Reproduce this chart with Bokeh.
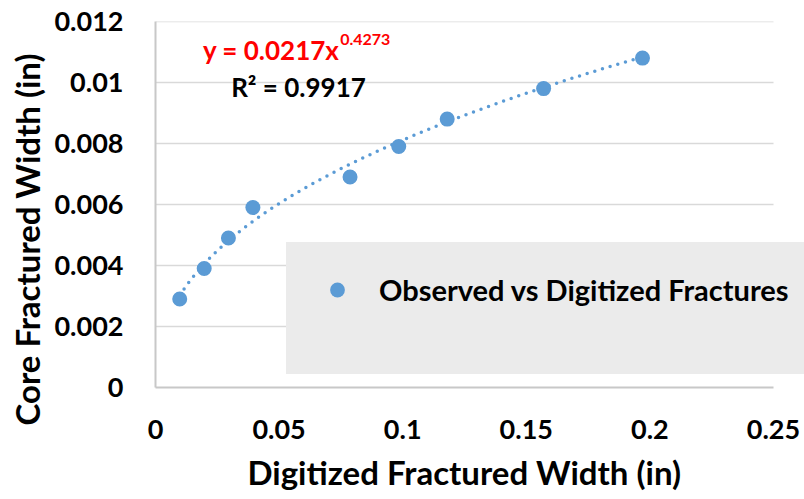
from bokeh.plotting import figure
from bokeh.models import FixedTicker, Legend, LegendItem, Label, Title
from bokeh.embed import file_html
from bokeh.resources import INLINE
import numpy as np

# Measured fracture widths (inches)
digitized_width = [0.0098, 0.0197, 0.0295, 0.0394, 0.0787, 0.0984, 0.118, 0.157, 0.197]
core_width = [0.0029, 0.0039, 0.0049, 0.0059, 0.0069, 0.0079, 0.0088, 0.0098, 0.0108]

# Power-law trendline y = a * x^b
fit_a = 0.0217
fit_b = 0.4273
fit_r2 = 0.9917

x_ticks = [0, 0.05, 0.1, 0.15, 0.2, 0.25]
x_tick_labels = ["0", "0.05", "0.1", "0.15", "0.2", "0.25"]
y_ticks = [0, 0.002, 0.004, 0.006, 0.008, 0.01, 0.012]
y_tick_labels = ["0", "0.002", "0.004", "0.006", "0.008", "0.01", "0.012"]

series_name = "Observed vs Digitized Fractures"
x_title = "Digitized Fractured Width (in)"
y_title = "Core Fractured Width (in)"

BLUE = "#5b9bd5"
FONT = "Lato"

W, H = 804, 499
LEFT, AXIS_END, TOP, BOTTOM = 155, 773, 21, 112
x_lo, x_hi = x_ticks[0], x_ticks[-1]
y_lo, y_hi = y_ticks[0], y_ticks[-1]
# The frame runs to the right edge so the legend box can reach it;
# the axis itself stops at the last tick.
x_view_end = x_hi * (W - LEFT) / (AXIS_END - LEFT)

p = figure(width=W, height=H, x_range=(x_lo, x_view_end), y_range=(y_lo, y_hi),
           output_backend="svg", toolbar_location=None,
           min_border_left=LEFT, min_border_right=0,
           min_border_top=TOP, min_border_bottom=BOTTOM)
p.outline_line_color = None
p.background_fill_color = "white"
p.border_fill_color = "white"
p.xgrid.grid_line_color = None
p.ygrid.grid_line_color = None

for ax in (p.xaxis[0], p.yaxis[0]):
    ax.axis_line_color = "#c8c8c8"
    ax.axis_line_width = 2
    ax.major_tick_line_color = None
    ax.minor_tick_line_color = None
    ax.major_tick_out = 0
    ax.major_tick_in = 0
    ax.major_label_text_font = FONT
    ax.major_label_text_font_style = "bold"
    ax.major_label_text_font_size = "27px"
    ax.major_label_text_color = "black"

p.xaxis.ticker = FixedTicker(ticks=x_ticks)
p.xaxis.major_label_overrides = dict(zip(x_ticks, x_tick_labels))
p.xaxis.major_label_standoff = 32
p.xaxis.bounds = (x_lo, x_hi)

p.yaxis.ticker = FixedTicker(ticks=y_ticks)
p.yaxis.major_label_overrides = dict(zip(y_ticks, y_tick_labels))
p.yaxis.major_label_standoff = 32

# Axis titles
title_style = dict(text_font=FONT, text_font_style="bold",
                   text_font_size="33px", text_color="black")
p.add_layout(Title(text=x_title, align="left", offset=92, standoff=16,
                   **title_style), "below")
p.add_layout(Title(text=y_title, align="left", offset=-38, standoff=9,
                   **title_style), "left")

# Horizontal gridlines over the axis span
grid_y = y_ticks[1:]
p.segment(x0=[x_lo] * len(grid_y), x1=[x_hi] * len(grid_y), y0=grid_y, y1=grid_y,
          line_color="#d9d9d9", line_width=1.5)

# Dotted power-law trendline across the observed range
trend_x = np.linspace(min(digitized_width), max(digitized_width), 200)
trend_y = fit_a * trend_x ** fit_b
p.line(trend_x, trend_y, line_color=BLUE, line_width=3.5,
       line_dash="0 8", line_cap="round")

pts = p.scatter(digitized_width, core_width, size=15, fill_color=BLUE,
                line_color=None)

# Spacer item keeps the legend entry in the upper part of its box
spacer = p.scatter([], [], size=1, fill_alpha=0, line_alpha=0)

legend = Legend(items=[LegendItem(label=series_name, renderers=[pts]),
                       LegendItem(label=" ", renderers=[spacer])],
                location=(131, 13))
legend.padding = 28
legend.spacing = 0
legend.margin = 0
legend.label_height = 37
legend.glyph_height = 37
legend.glyph_width = 44
legend.label_standoff = 20
legend.label_width = 470
legend.background_fill_color = "#ebebeb"
legend.background_fill_alpha = 1
legend.border_line_color = "#ebebeb"
legend.border_line_width = 1
legend.label_text_font = FONT
legend.label_text_font_style = "bold"
legend.label_text_font_size = "29px"
legend.label_text_color = "black"
p.add_layout(legend, "center")

# Trendline equation and R² annotations
eq_main = Label(x=0.0192, y=0.01107, text=f"y = {fit_a}x",
                text_font=FONT, text_font_style="bold", text_font_size="26px",
                text_color="#ff0000", text_baseline="alphabetic")
eq_exp = Label(x=0.0747, y=0.0114, text=f"{fit_b}",
               text_font=FONT, text_font_style="bold", text_font_size="16px",
               text_color="#ff0000", text_baseline="alphabetic")
r2 = Label(x=0.0306, y=0.00986, text=f"R\u00b2 = {fit_r2}",
           text_font=FONT, text_font_style="bold", text_font_size="26px",
           text_color="black", text_baseline="alphabetic")
for lb in (eq_main, eq_exp, r2):
    p.add_layout(lb)

open("out.html", "w").write(file_html(p, INLINE))
